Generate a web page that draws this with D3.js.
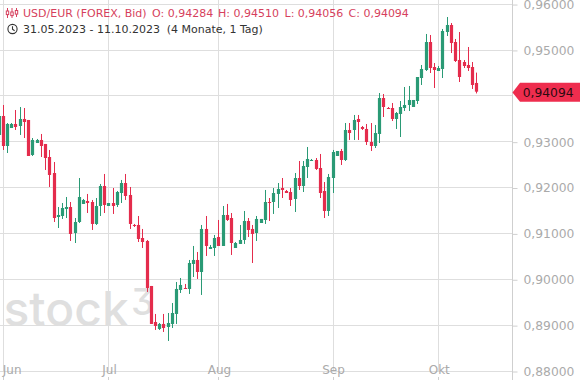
<!DOCTYPE html>
<html>
<head>
<meta charset="utf-8">
<script src="https://cdn.jsdelivr.net/npm/d3@7/dist/d3.min.js"></script>
<style>
html,body{margin:0;padding:0;background:#fff;overflow:hidden}
svg{display:block}
text{font-family:"DejaVu Sans",sans-serif}
</style>
</head>
<body>
<svg id="chart" width="580" height="380"></svg>
<script>
const opens=[0.93150,0.93564,0.92910,0.93302,0.93390,0.93346,0.93499,0.93477,0.92714,0.92975,0.93041,0.92954,0.92670,0.92321,0.91362,0.91384,0.91537,0.91580,0.91013,0.91253,0.91646,0.91711,0.91689,0.91210,0.91602,0.92038,0.91602,0.91667,0.91624,0.91885,0.92103,0.91842,0.91188,0.91188,0.90904,0.90839,0.89858,0.89073,0.88921,0.89030,0.88964,0.89030,0.89248,0.89771,0.89814,0.89793,0.90338,0.90425,0.90163,0.91101,0.90665,0.90686,0.90926,0.90730,0.91406,0.91340,0.90686,0.90774,0.90861,0.91275,0.91101,0.91013,0.91231,0.91297,0.91689,0.91689,0.91864,0.91994,0.91929,0.91907,0.91755,0.92212,0.92038,0.92452,0.92583,0.92605,0.92430,0.91929,0.91493,0.92212,0.92692,0.92801,0.92605,0.93259,0.93259,0.93499,0.93324,0.93281,0.92997,0.92910,0.93172,0.93956,0.93738,0.93738,0.93499,0.93608,0.93738,0.93804,0.93760,0.93891,0.94392,0.94567,0.95177,0.94632,0.94545,0.94589,0.95395,0.95548,0.95177,0.94785,0.94741,0.94676,0.94632,0.94284];
const highs=[0.93651,0.93804,0.93411,0.93411,0.93695,0.93760,0.93738,0.93477,0.93084,0.93063,0.93172,0.92954,0.92823,0.92561,0.91580,0.91667,0.91798,0.91689,0.91340,0.92212,0.91755,0.91864,0.91733,0.91776,0.92082,0.92300,0.91667,0.91994,0.91929,0.92169,0.92300,0.92016,0.91210,0.91384,0.91101,0.90861,0.89858,0.89248,0.89051,0.89248,0.89269,0.89487,0.89945,0.90032,0.89902,0.90425,0.90730,0.90599,0.91188,0.91384,0.90752,0.90970,0.91297,0.91602,0.91646,0.91449,0.90817,0.91188,0.91493,0.91340,0.91188,0.91384,0.91319,0.91951,0.91776,0.91994,0.92103,0.92212,0.91951,0.91994,0.92321,0.92583,0.92583,0.92888,0.92627,0.92648,0.92736,0.92125,0.92300,0.92823,0.92801,0.92845,0.93411,0.93411,0.93586,0.93586,0.93346,0.93390,0.93411,0.93368,0.94065,0.94044,0.93760,0.93847,0.93651,0.93891,0.94196,0.94218,0.93913,0.94414,0.94676,0.95352,0.95330,0.94719,0.94654,0.95461,0.95722,0.95591,0.95243,0.95395,0.94785,0.95068,0.94741,0.94510];
const lows=[0.93041,0.92823,0.92757,0.93302,0.93259,0.93150,0.93084,0.92692,0.92692,0.92975,0.92670,0.92387,0.92016,0.91253,0.91122,0.91319,0.91340,0.90839,0.90795,0.91231,0.91646,0.91449,0.91079,0.91188,0.91384,0.91449,0.91602,0.91428,0.91580,0.91667,0.91733,0.91101,0.91144,0.90817,0.90686,0.89727,0.89030,0.88899,0.88899,0.88855,0.88659,0.88942,0.89030,0.89705,0.89793,0.89684,0.90054,0.90011,0.89662,0.90512,0.90665,0.90512,0.90730,0.90730,0.91275,0.90534,0.90686,0.90774,0.90774,0.90926,0.90359,0.90839,0.91231,0.91210,0.91275,0.91428,0.91558,0.91776,0.91885,0.91602,0.91471,0.91951,0.91907,0.92212,0.92583,0.92387,0.91776,0.91340,0.91384,0.91885,0.92692,0.92496,0.92583,0.93041,0.93041,0.93041,0.93259,0.92932,0.92801,0.92866,0.92975,0.93542,0.93717,0.93455,0.93281,0.93106,0.93673,0.93673,0.93760,0.93826,0.94240,0.94545,0.94501,0.94174,0.94545,0.94392,0.95308,0.94937,0.94741,0.94305,0.94610,0.94545,0.94153,0.94056];
const closes=[0.93564,0.92910,0.93390,0.93390,0.93324,0.93499,0.93433,0.92692,0.93041,0.93041,0.92910,0.92648,0.92278,0.91340,0.91406,0.91558,0.91580,0.90992,0.91253,0.91798,0.91733,0.91667,0.91210,0.91602,0.92038,0.91624,0.91667,0.91602,0.91907,0.92103,0.91820,0.91210,0.91166,0.90883,0.90817,0.89814,0.89030,0.88986,0.89030,0.88942,0.89051,0.89269,0.89793,0.89880,0.89793,0.90359,0.90425,0.90163,0.91101,0.90730,0.90708,0.90904,0.90730,0.91406,0.91297,0.90795,0.90795,0.90861,0.91275,0.91079,0.90992,0.91319,0.91319,0.91689,0.91667,0.91885,0.91973,0.91951,0.91885,0.91733,0.92212,0.92038,0.92474,0.92627,0.92605,0.92409,0.91885,0.91493,0.92234,0.92779,0.92801,0.92605,0.93259,0.93193,0.93477,0.93433,0.93281,0.92997,0.92910,0.93193,0.93956,0.93760,0.93717,0.93499,0.93629,0.93760,0.93804,0.93913,0.93913,0.94414,0.94589,0.95177,0.94610,0.94567,0.94610,0.95417,0.95548,0.95155,0.94763,0.94414,0.94654,0.94610,0.94240,0.94094];

const priceTicks=[0.96,0.95,0.94,0.93,0.92,0.91,0.90,0.89,0.88];
const priceLabelTicks=[0.96,0.95,0.93,0.92,0.91,0.90,0.89,0.88];
const monthLabels=["Jun","Jul","Aug","Sep","Okt"];
const monthBars=[1,26,52,79,104];
const titleParts=[["USD/EUR (FOREX, Bid)",23],["O: 0,94284",152],["H: 0,94510",218],["L: 0,94056",284.5],["C: 0,94094",348.5]];
const rangeParts=[["31.05.2023 - 11.10.2023",23],["(4 Monate, 1 Tag)",166.7]];
const lastLabel="0,94094";
const lastValue=0.94094;

const W=580,H=380,plotR=512.5,red="#e42c4c",green="#2a9a75",titleRed="#d63f5d",gridC="#dedede",axisC="#cfcfcf",labelC="#aaaaaa";
const svg=d3.select("#chart");
const x=d3.scaleLinear().domain([0,113]).range([-0.93,476.8]);
const y=d3.scaleLinear().domain([0.88,0.96]).range([371.2,4.26]);
const snap=v=>Math.floor(v)+0.5;
const fmt=v=>v.toFixed(5).replace(".",",");

// gridlines
svg.append("g").selectAll("line").data(priceTicks).join("line")
  .attr("x1",0).attr("x2",plotR).attr("y1",d=>snap(y(d))).attr("y2",d=>snap(y(d)))
  .attr("stroke",gridC);
svg.append("g").selectAll("line").data(monthBars).join("line")
  .attr("x1",d=>snap(x(d))).attr("x2",d=>snap(x(d))).attr("y1",0).attr("y2",372)
  .attr("stroke",gridC);

// watermark
const wmStyle='font-family:Inter,sans-serif;font-weight:500;font-feature-settings:"cv09"';
svg.append("text").attr("x",3.5).attr("y",326).attr("font-size",48)
  .attr("style",wmStyle).attr("fill","#dfdfdf").text("stock");
svg.append("text").attr("x",131).attr("y",315).attr("font-size",37)
  .attr("style",wmStyle).attr("fill","#dfdfdf").text("3");

// candles
const idx=d3.range(opens.length);
const g=svg.append("g");
g.selectAll("line").data(idx).join("line")
  .attr("x1",i=>snap(x(i))).attr("x2",i=>snap(x(i)))
  .attr("y1",i=>y(highs[i])).attr("y2",i=>y(lows[i]))
  .attr("stroke",i=>closes[i]>=opens[i]?green:red).attr("stroke-width",1);
g.selectAll("rect").data(idx).join("rect")
  .attr("x",i=>snap(x(i))-1.6).attr("width",3.2)
  .attr("y",i=>y(Math.max(opens[i],closes[i])))
  .attr("height",i=>Math.max(1,Math.abs(y(opens[i])-y(closes[i]))))
  .attr("fill",i=>closes[i]>=opens[i]?green:red);

// right axis
const yAxis=d3.axisRight(y).tickValues(priceLabelTicks).tickFormat(fmt).tickSize(5).tickPadding(6);
const ya=svg.append("g").attr("transform",`translate(${plotR},0.3)`).call(yAxis);
ya.select(".domain").remove();
ya.selectAll("line").attr("stroke",axisC);
ya.selectAll("text").attr("fill",labelC).style("font-size","12.3px").style("font-family",'"DejaVu Sans"');
svg.append("line").attr("x1",plotR).attr("x2",plotR).attr("y1",0).attr("y2",H).attr("stroke",axisC);

// bottom axis
const xAxis=d3.axisBottom(x).tickValues(monthBars).tickFormat((d,i)=>monthLabels[i]).tickSize(0).tickPadding(0);
const xa=svg.append("g").attr("transform","translate(0,362)").call(xAxis);
xa.select(".domain").remove();
xa.selectAll("line").remove();
xa.selectAll("text").attr("fill",labelC).style("font-size","12px").style("font-family",'"DejaVu Sans"')
  .attr("dy","1em").attr("text-anchor",(d,i)=>i===0?"start":"middle")
  .attr("x",(d,i)=>i===0?-1:0);
svg.append("g").selectAll("line").data(monthBars).join("line")
  .attr("x1",d=>snap(x(d))).attr("x2",d=>snap(x(d))).attr("y1",377).attr("y2",H).attr("stroke",axisC);

// last price tag
const ly=y(lastValue);
svg.append("path")
  .attr("d",d3.line()([[plotR,ly+0.8],[520,ly-9],[W,ly-9],[W,ly+10],[520,ly+10]])+"Z")
  .attr("fill","#ee2d4e");
svg.append("text").attr("x",522.7).attr("y",ly+5.4).attr("font-size",12.3).attr("fill","#2a0a10").text(lastLabel);

// header
svg.append("g").selectAll("text").data(titleParts).join("text")
  .attr("x",d=>d[1]).attr("y",17).attr("font-size",11).attr("fill",titleRed).text(d=>d[0]);
svg.append("g").selectAll("text").data(rangeParts).join("text")
  .attr("x",d=>d[1]).attr("y",33).attr("font-size",11).attr("fill","#333").text(d=>d[0]);

// candle icon
const ic=svg.append("g").attr("fill","none").attr("stroke",titleRed).attr("stroke-width",1);
[[7.5,11,17,8],[12,12,17,8],[16.5,10.5,16,8]].forEach(([cx,by,b2,t])=>{
  ic.append("line").attr("x1",cx).attr("x2",cx).attr("y1",t).attr("y2",b2+1);
  ic.append("rect").attr("x",cx-1.2).attr("y",by).attr("width",2.4).attr("height",3.6).attr("fill","#fff");
});
// clock icon
const ck=svg.append("g").attr("fill","none").attr("stroke","#333").attr("stroke-width",1.1);
ck.append("circle").attr("cx",12.5).attr("cy",29).attr("r",4.6);
ck.append("path").attr("d","M12.5 26.2V29.2L14.6 30.8");
</script>
</body>
</html>
